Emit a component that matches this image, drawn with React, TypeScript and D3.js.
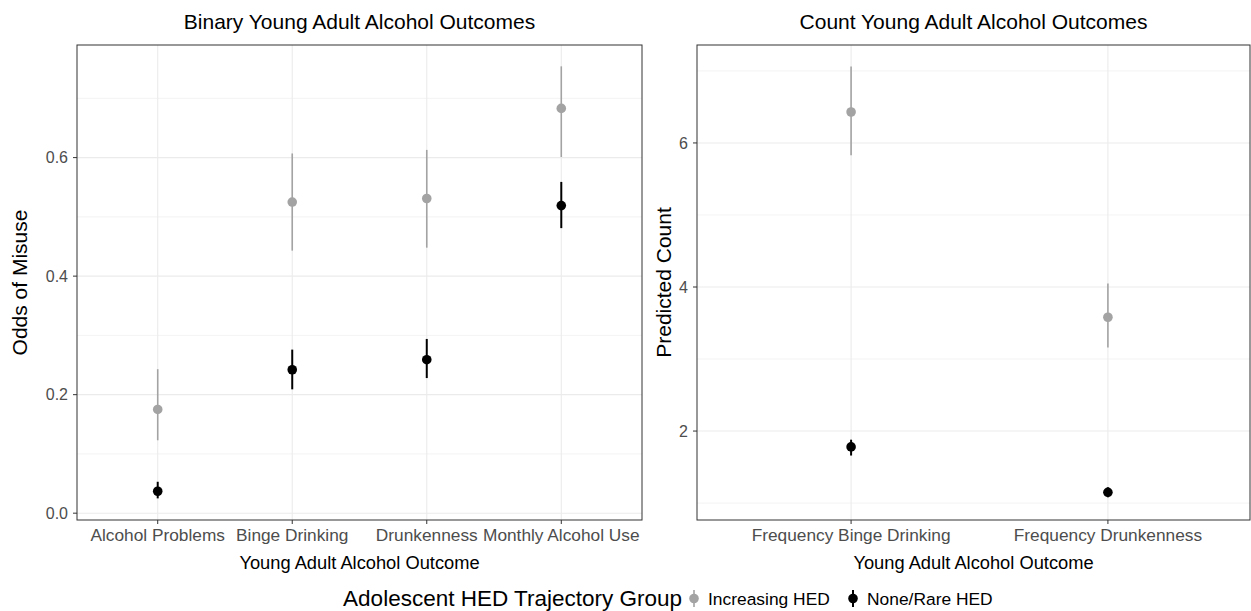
import React from 'react';
import * as d3 from 'd3';

// binary outcomes (odds of misuse)
const binaryOutcomes = ['Alcohol Problems', 'Binge Drinking', 'Drunkenness', 'Monthly Alcohol Use'];
const binaryIncreasing = [0.175, 0.525, 0.531, 0.683];
const binaryIncreasingLo = [0.123, 0.443, 0.448, 0.601];
const binaryIncreasingHi = [0.243, 0.607, 0.613, 0.754];
const binaryNone = [0.037, 0.242, 0.259, 0.519];
const binaryNoneLo = [0.025, 0.209, 0.228, 0.481];
const binaryNoneHi = [0.053, 0.276, 0.294, 0.559];
const binaryTicks = [0, 0.2, 0.4, 0.6];
const binaryMinor = [0.1, 0.3, 0.5, 0.7];

// count outcomes (predicted count)
const countOutcomes = ['Frequency Binge Drinking', 'Frequency Drunkenness'];
const countIncreasing = [6.43, 3.58];
const countIncreasingLo = [5.83, 3.16];
const countIncreasingHi = [7.06, 4.05];
const countNone = [1.78, 1.15];
const countNoneLo = [1.66, 1.08];
const countNoneHi = [1.88, 1.22];
const countTicks = [2, 4, 6];
const countMinor = [1, 3, 5, 7];

const groups = ['Increasing HED', 'None/Rare HED'];
const groupColors = ['#A3A3A3', '#000000'];

const FONT = '"Liberation Sans", Arial, Helvetica, sans-serif';
const GRID = '#EBEBEB';
const DARK = '#333333';
const TICK_TEXT = '#4D4D4D';

const top = 45;
const bottom = 520;

type Series = { est: number[]; lo: number[]; hi: number[] };

const Panel = ({ title, yTitle, cats, series, ticks, minor, yDomain, left, right, xRangeRight, yTitleX, fmt }: {
  title: string; yTitle: string; cats: string[]; series: Series[]; ticks: number[]; minor: number[];
  yDomain: [number, number]; left: number; right: number; xRangeRight: number; yTitleX: number; fmt: (v: number) => string;
}) => {
  const x = d3.scalePoint<string>().domain(cats).range([left, xRangeRight]).padding(0.6);
  const y = d3.scaleLinear().domain(yDomain).range([bottom, top]);
  const cx = (left + right) / 2;
  return (
    <g>
      <rect x={left} y={top} width={right - left} height={bottom - top} fill="white" />
      {minor.map(v => (
        <line key={'mn' + v} x1={left} x2={right} y1={y(v)} y2={y(v)} stroke={GRID} strokeWidth={0.6} />
      ))}
      {ticks.map(v => (
        <line key={'mj' + v} x1={left} x2={right} y1={y(v)} y2={y(v)} stroke={GRID} strokeWidth={1.1} />
      ))}
      {cats.map(c => (
        <line key={'xg' + c} x1={x(c)} x2={x(c)} y1={top} y2={bottom} stroke={GRID} strokeWidth={1.1} />
      ))}
      {series.map((s, gi) => (
        <g key={'s' + gi}>
          {cats.map((c, i) => (
            <g key={c}>
              <line x1={x(c)} x2={x(c)} y1={y(s.lo[i])} y2={y(s.hi[i])} stroke={groupColors[gi]} strokeWidth={gi === 0 ? 1.6 : 2} />
              <circle cx={x(c)} cy={y(s.est[i])} r={4.8} fill={groupColors[gi]} />
            </g>
          ))}
        </g>
      ))}
      <rect x={left} y={top} width={right - left} height={bottom - top} fill="none" stroke={DARK} strokeWidth={1} />
      {ticks.map(v => (
        <g key={'yt' + v}>
          <line x1={left - 4} x2={left} y1={y(v)} y2={y(v)} stroke={DARK} strokeWidth={1} />
          <text x={left - 9} y={y(v)} dy="0.35em" textAnchor="end" fontSize={16} fill={TICK_TEXT} fontFamily={FONT}>{fmt(v)}</text>
        </g>
      ))}
      {cats.map(c => (
        <g key={'xt' + c}>
          <line x1={x(c)} x2={x(c)} y1={bottom} y2={bottom + 4} stroke={DARK} strokeWidth={1} />
          <text x={x(c)} y={541} textAnchor="middle" fontSize={17.3} fill={TICK_TEXT} fontFamily={FONT}>{c}</text>
        </g>
      ))}
      <text x={cx} y={29} textAnchor="middle" fontSize={21} fill="#000" fontFamily={FONT}>{title}</text>
      <text x={cx} y={569} textAnchor="middle" fontSize={18.3} fill="#000" fontFamily={FONT}>Young Adult Alcohol Outcome</text>
      <text transform={`translate(${yTitleX},${(top + bottom) / 2}) rotate(-90)`} textAnchor="middle" fontSize={21} fill="#000" fontFamily={FONT}>{yTitle}</text>
    </g>
  );
};

export default function App() {
  const legendX = [694, 853];
  return (
    <svg width={1251} height={611} style={{ position: 'absolute', left: 0, top: 0, background: 'white' }}>
      <Panel
        title="Binary Young Adult Alcohol Outcomes"
        yTitle="Odds of Misuse"
        cats={binaryOutcomes}
        series={[
          { est: binaryIncreasing, lo: binaryIncreasingLo, hi: binaryIncreasingHi },
          { est: binaryNone, lo: binaryNoneLo, hi: binaryNoneHi },
        ]}
        ticks={binaryTicks}
        minor={binaryMinor}
        yDomain={[-0.0115, 0.79]}
        left={77}
        right={642}
        xRangeRight={642}
        yTitleX={27}
        fmt={d3.format('.1f')}
      />
      <Panel
        title="Count Young Adult Alcohol Outcomes"
        yTitle="Predicted Count"
        cats={countOutcomes}
        series={[
          { est: countIncreasing, lo: countIncreasingLo, hi: countIncreasingHi },
          { est: countNone, lo: countNoneLo, hi: countNoneHi },
        ]}
        ticks={countTicks}
        minor={countMinor}
        yDomain={[0.765, 7.36]}
        left={697}
        right={1250}
        xRangeRight={1262}
        yTitleX={671}
        fmt={d3.format('d')}
      />
      <text x={682} y={606} textAnchor="end" fontSize={22.5} fill="#000" fontFamily={FONT}>Adolescent HED Trajectory Group</text>
      {groups.map((g, i) => (
        <g key={g}>
          <line x1={legendX[i]} x2={legendX[i]} y1={590} y2={607} stroke={groupColors[i]} strokeWidth={i === 0 ? 1.6 : 2} />
          <circle cx={legendX[i]} cy={598.5} r={4.8} fill={groupColors[i]} />
          <text x={legendX[i] + 14} y={605} fontSize={17.4} fill="#000" fontFamily={FONT}>{g}</text>
        </g>
      ))}
    </svg>
  );
}
